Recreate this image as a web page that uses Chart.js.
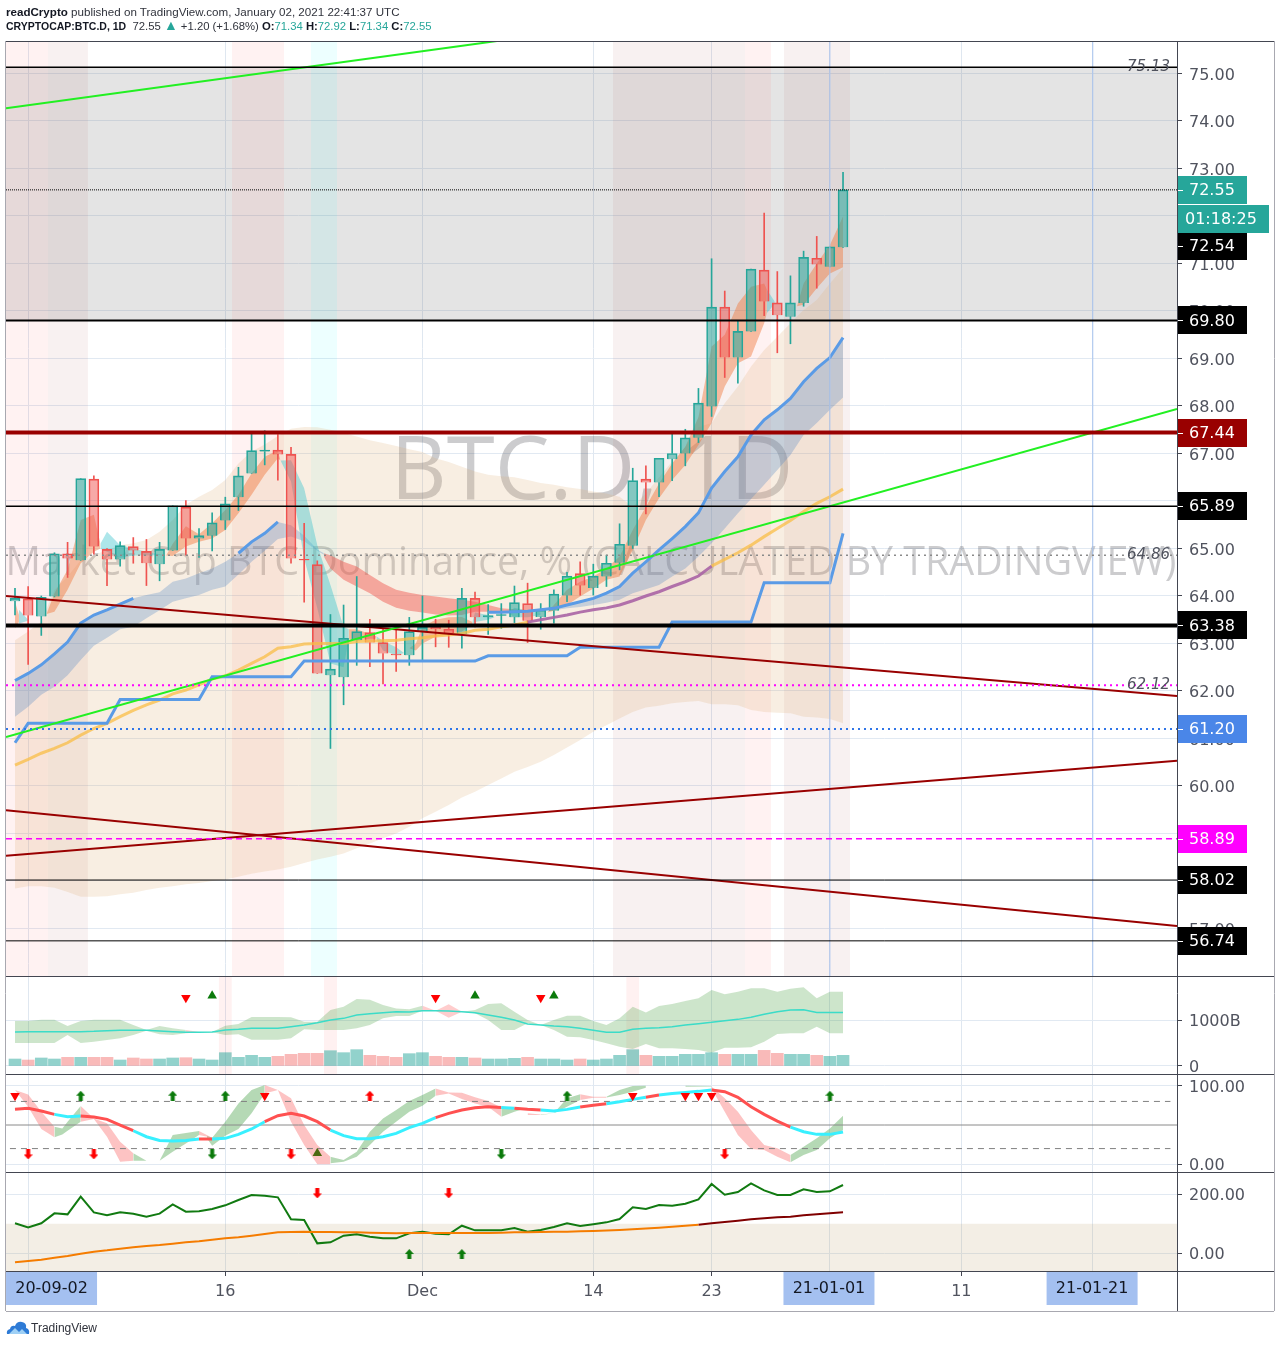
<!DOCTYPE html>
<html>
<head>
<meta charset="utf-8">
<title>CRYPTOCAP:BTC.D, 1D</title>
<script src="https://cdn.jsdelivr.net/npm/chart.js@4"></script>
<style>
    html, body { margin: 0; padding: 0; background: #fff; }
    #page { position: relative; width: 1280px; height: 1345px; overflow: hidden; }
    canvas { position: absolute; left: 0; top: 0; }
    .head { position: absolute; left: 6px; font: 11.6px "Liberation Sans", sans-serif; color: #30333c; white-space: nowrap; }
    .head b { color: #131722; }
    .head i { font-style: normal; color: #26a69a; }
    #line1 { top: 5px; }
    #line2 { top: 20px; font-size: 11.3px; }
    #line2 b.sym { font-size: 10.5px; }
    #line2 i.up { font-size: 14px; line-height: 10px; }
    #logo { position: absolute; left: 6px; top: 1320px; }
    #brand { position: absolute; left: 31px; top: 1321px; font: 12px "Liberation Sans", sans-serif; color: #30333c; }
</style>
</head>
<body>
<div id="page">
    <canvas id="chart" width="1280" height="1345"></canvas>
    <div class="head" id="line1"><b>readCrypto</b> published on TradingView.com, January 02, 2021 22:41:37 UTC</div>
    <div class="head" id="line2"><b class="sym">CRYPTOCAP:BTC.D, 1D</b>&nbsp; 72.55 <i class="up">▲</i> +1.20 (+1.68%) <b>O:</b><i>71.34</i> <b>H:</b><i>72.92</i> <b>L:</b><i>71.34</i> <b>C:</b><i>72.55</i></div>
    <svg id="logo" width="24" height="15" viewBox="0 0 24 15"><path d="M1 14 Q0 10 4 9 Q5 5 9 6 Q11 1 16 2 Q21 3 20 8 Q24 9 23 14 Z" fill="#2e7bd6"/><path d="M3 14 L9 8 L13 12 L16 9 L21 14 Z" fill="#9fd0f5"/></svg>
    <div id="brand">TradingView</div>
</div>

<script>
// days are counted from the first candle, 31 Oct 2020
const candleOpen = [63.89,63.94,63.57,63.99,64.89,64.75,66.46,64.98,64.77,65.04,64.94,64.67,64.96,65.87,65.21,65.27,65.59,66.08,66.58,67.04,67.07,66.98,64.77,64.66,62.33,62.29,63.07,63.23,63.02,62.77,62.75,63.26,63.35,63.30,63.20,63.95,63.55,63.59,63.55,63.84,63.56,63.69,64.01,64.47,64.17,64.41,64.70,65.06,66.46,66.39,66.88,67.00,67.33,67.99,70.08,69.02,69.57,70.86,70.17,69.88,70.17,71.11,70.93,71.34];
const candleClose = [63.95,63.59,63.97,64.89,64.79,66.47,65.04,64.77,65.06,64.96,64.69,64.98,65.90,65.21,65.27,65.54,65.94,66.53,67.06,67.07,66.98,64.79,64.75,62.37,62.46,63.11,63.25,63.02,62.79,62.76,63.25,63.34,63.30,63.21,63.95,63.55,63.59,63.61,63.86,63.48,63.70,64.04,64.42,64.22,64.42,64.69,65.09,66.43,66.39,66.90,67.00,67.33,68.06,70.08,69.02,69.57,70.88,70.20,69.91,70.17,71.13,70.98,71.35,72.55];
const candleHigh = [64.16,64.20,64.00,64.91,65.13,66.47,66.53,65.00,65.14,65.23,65.19,65.13,65.90,66.01,65.42,65.75,66.08,66.71,67.46,67.48,67.40,67.13,65.53,64.74,63.61,63.81,64.41,63.51,63.30,63.30,63.55,64.00,63.51,63.49,64.16,64.08,63.82,63.84,64.21,64.27,63.84,64.13,64.50,64.72,64.67,64.86,65.52,66.69,66.74,66.90,67.42,67.51,68.37,71.10,70.42,69.79,70.88,72.06,70.83,70.74,71.26,71.57,71.35,72.92];
const candleLow = [63.60,62.56,63.17,63.98,64.39,64.75,64.88,64.22,64.63,64.69,64.22,64.32,64.96,64.86,64.81,64.95,65.40,65.80,66.58,66.76,66.44,64.69,63.87,62.37,60.79,61.71,62.54,62.51,62.15,62.41,62.54,62.65,62.93,62.92,62.90,63.35,63.19,63.32,63.44,63.02,63.30,63.43,63.88,64.02,64.02,64.20,64.55,65.00,65.73,66.09,66.43,66.74,67.23,67.78,68.60,68.48,69.57,69.90,69.12,69.31,70.10,70.48,70.93,71.34];

const volume = [152,130,174,152,188,188,188,188,130,174,152,152,174,181,152,130,290,188,232,188,210,254,275,275,333,290,355,232,210,188,268,290,210,188,188,174,152,152,167,188,152,152,130,152,130,152,232,355,232,210,210,254,254,290,254,254,254,340,275,254,254,232,210,232];
const volumeAvg = [739,746,746,746,746,746,753,768,775,775,775,761,746,732,732,739,782,797,819,819,819,855,891,942,1000,1036,1108,1137,1159,1181,1174,1203,1203,1195,1181,1159,1108,1058,1000,913,891,869,855,819,775,732,732,797,819,833,855,891,920,949,985,1014,1058,1123,1181,1217,1224,1166,1166,1166];
const volumeUpper = [978,978,1007,1007,869,978,1007,1007,1007,891,782,869,819,782,739,739,877,913,1065,1065,1065,1058,964,964,1217,1290,1456,1442,1326,1253,1232,1311,1203,1340,1181,1217,1348,1362,1181,1000,891,1000,1094,1094,978,891,1036,1290,1166,1304,1348,1413,1471,1652,1558,1616,1688,1688,1616,1681,1710,1471,1616,1616];
const volumeLower = [500,500,500,500,674,500,529,565,601,674,768,688,674,710,732,732,674,688,572,572,572,601,797,782,782,782,819,891,1036,1087,1087,1203,1203,1050,1181,1145,1000,782,782,927,891,782,638,623,565,493,420,369,478,384,384,369,348,290,398,398,406,529,695,710,710,855,710,710];

const cloudUpper = [63.07,63.25,63.46,64.13,64.41,64.75,64.86,64.97,65.07,65.11,65.18,65.35,65.60,65.92,66.09,66.23,66.44,66.79,67.04,67.19,67.37,67.52,67.56,67.55,67.50,67.43,67.36,67.28,67.22,67.16,67.09,67.03,66.90,66.82,66.72,66.62,66.55,66.52,66.50,66.44,66.38,66.34,66.29,66.25,66.20,66.16,66.09,65.88,66.16,66.50,66.83,67.14,67.56,67.64,68.06,68.41,68.83,69.18,69.46,69.74,70.02,70.23,70.58,70.90];
const cloudLower = [57.84,57.89,57.89,57.86,57.77,57.67,57.67,57.68,57.72,57.75,57.81,57.86,57.89,57.93,57.96,58.00,58.03,58.09,58.15,58.20,58.24,58.30,58.38,58.45,58.51,58.58,58.69,58.79,58.90,59.00,59.14,59.32,59.46,59.60,59.76,59.88,60.02,60.16,60.30,60.40,60.51,60.65,60.81,60.97,61.14,61.28,61.42,61.56,61.65,61.69,61.74,61.77,61.79,61.72,61.72,61.70,61.60,61.56,61.54,61.53,61.46,61.44,61.41,61.32];

// ribbons: [day, top, bottom]
const fastOrange1 = [[0,63.88,63.32],[0.3,63.60,63.45]];
const fastTeal1 = [[0.3,63.71,63.42],[1,63.50,63.48]];
const fastOrange2 = [[2.4,63.62,63.62],[3,64.06,63.67],[4,64.55,64.13],[5,65.60,64.69],[6,65.71,64.93],[6.5,65.10,65.00]];
const fastTeal2 = [[6.5,65.10,65.00],[7,65.35,64.93],[8,65.07,64.80],[9,65.00,64.85],[10,64.93,64.85],[11,64.88,64.86],[11.5,64.85,64.85]];
const fastOrange3 = [[11.5,64.85,64.85],[12,65.10,64.84],[13,65.47,65.04],[14,65.30,65.14],[15,65.53,65.21],[16,65.81,65.39],[17,66.13,65.74],[18,66.58,66.13],[19,66.93,66.55],[20,67.07,66.90],[20.2,66.85,66.85]];
const fastTeal3 = [[20.2,66.85,66.85],[21,66.86,66.41],[22,66.27,64.79],[23,65.07,63.74],[24,64.23,62.58],[25,63.35,62.50],[25.4,63.30,63.10]];
const fastOrange4 = [[25.4,63.30,63.10],[26,63.30,63.05],[27,63.20,63.10],[27.5,63.15,63.10]];
const fastTeal4 = [[27.5,63.15,63.10],[28,63.05,62.85],[29,62.92,62.75],[29.6,62.80,62.80]];
const fastOrange5 = [[30,62.90,62.90],[30.5,63.00,62.85],[31,63.35,63.00],[32,63.50,63.14],[33,63.55,63.20],[34,63.56,63.25],[34.8,63.45,63.40]];
const fastTeal5 = [[34.8,63.45,63.40],[35,63.65,63.45],[36,63.60,63.50],[36.5,63.55,63.55]];
const fastTeal6 = [[37.5,63.65,63.65],[38,63.75,63.55],[39,63.70,63.55],[40,63.65,63.60]];
const fastOrange6 = [[40.5,63.65,63.65],[41,63.81,63.69],[42,64.13,63.81],[43,64.30,63.99],[44,64.41,64.16],[45,64.58,64.34],[46,64.83,64.41],[47,65.39,64.97],[48,65.88,65.60],[49,66.37,66.06],[50,66.79,66.44],[51,67.14,66.76],[52,67.77,67.18],[53,69.25,67.64],[54,69.50,68.41],[55,70.16,68.90],[56,70.51,69.04],[57,70.58,69.74],[57.2,70.45,69.95]];
const fastTeal7 = [[57.2,70.45,69.95],[57.8,70.20,70.15]];
const fastOrange7 = [[59.5,70.10,70.10],[60,70.58,70.13],[61,71.00,70.48],[62,71.39,70.79],[63,71.99,70.92]];
const slowRed = [[23.5,64.90,64.83],[24,64.86,64.58],[25,64.72,64.34],[26,64.62,64.20],[27,64.44,64.06],[28,64.27,63.88],[29,64.13,63.75],[30,64.07,63.69],[31,64.02,63.65],[32,63.99,63.61],[33,63.95,63.59],[34,63.92,63.60],[35,63.88,63.67],[36,63.81,63.67],[37,63.74,63.67],[39,63.70,63.68],[40,63.68,63.68]];
const slowBlue1 = [[0,62.22,61.46],[1,62.37,61.67],[2,62.55,61.92],[3,62.78,62.09],[4,63.03,62.33],[5,63.43,62.65],[6,63.60,62.95],[7,63.71,63.12],[8,63.83,63.30],[9,63.95,63.35],[10,64.02,63.53],[11,64.08,63.70],[12,64.30,63.88],[13,64.37,63.95],[14,64.48,64.02],[15,64.58,64.13],[16,64.72,64.20],[17,64.90,64.45],[18,65.14,64.72],[19,65.32,64.95],[20,65.56,65.20],[21,65.49,65.25],[22,65.27,65.15],[23,64.98,64.95],[23.5,64.90,64.87]];
const slowBlue2 = [[41,63.74,63.70],[42,63.81,63.74],[43,63.88,63.77],[44,63.95,63.81],[45,64.06,63.86],[46,64.20,63.92],[47,64.48,64.06],[48,64.72,64.14],[49,64.97,64.23],[50,65.21,64.41],[51,65.46,64.58],[52,65.75,64.83],[53,66.27,65.11],[54,66.62,65.42],[55,66.93,65.74],[56,67.39,66.04],[57,67.71,66.34],[58,67.92,66.65],[59,68.16,66.97],[60,68.51,67.39],[61,68.79,67.64],[62,69.02,67.92],[63,69.44,68.18]];

// moving average pieces: [day, value]
const blueAvg1 = [[0,62.22],[1,62.37],[2,62.55],[3,62.78],[4,63.03],[5,63.43],[6,63.60],[7,63.71],[8,63.83],[9,63.95]];
const blueAvg2 = [[17,64.90],[18,65.14],[19,65.32],[20,65.56]];
const blueAvg3 = [[36,63.66],[37,63.66],[38,63.67],[39,63.68],[40,63.71],[41,63.74],[42,63.81],[43,63.88],[44,63.95],[45,64.06],[46,64.20],[47,64.48],[48,64.72],[49,64.97],[50,65.21],[51,65.46],[52,65.75],[53,66.27],[54,66.62],[55,66.93],[56,67.39],[57,67.71],[58,67.92],[59,68.16],[60,68.51],[61,68.79],[62,69.02],[63,69.44]];
const yellowAvg1 = [60.44,60.56,60.69,60.79,60.91,61.07,61.21,61.32,61.46,61.59,61.71,61.81,61.94,62.02,62.13,62.25,62.32,62.44,62.58,62.72,62.90,62.93,62.99,63.00,63.00,63.00,63.04,63.05,63.06,63.07,63.10,63.12,63.16,63.18,63.21,63.28,63.30,63.35,63.39,63.45];
const purpleAvg = [[39,63.45],[40,63.50],[41,63.55],[42,63.60],[43,63.66],[44,63.71],[45,63.75],[46,63.81],[47,63.90],[48,64.00],[49,64.09],[50,64.20],[51,64.30],[52,64.42],[53,64.63]];
const yellowAvg2 = [[53,64.63],[54,64.77],[55,64.91],[56,65.07],[57,65.25],[58,65.42],[59,65.59],[60,65.78],[61,65.95],[62,66.09],[63,66.25]];
const baseLine = [60.91,61.32,61.32,61.32,61.32,61.32,61.32,61.32,61.82,61.82,61.82,61.82,61.82,61.82,61.82,62.30,62.30,62.30,62.30,62.30,62.30,62.30,62.63,62.63,62.63,62.63,62.63,62.63,62.63,62.63,62.63,62.63,62.63,62.63,62.63,62.63,62.74,62.74,62.74,62.74,62.74,62.74,62.74,62.92,62.92,62.92,62.92,62.92,62.92,62.92,63.45,63.45,63.45,63.45,63.45,63.45,63.45,64.28,64.28,64.28,64.28,64.28,64.28,65.32];

// trend lines: [day, value, day, value]
const greenTrends = [[-0.685,74.27,36.67,75.684],[-0.685,61.03,88.41,67.94]];
const redTrends = [[-0.685,64.00,88.41,61.895],[-0.685,58.53,88.41,60.53],[-0.685,59.49,88.41,57.05]];

const levels = [75.13,72.55,69.80,67.44,65.89,64.86,63.38,62.12,61.20,58.89,58.02,56.74];
const levelTags = [75.13,64.86,62.12];
const boxRange = [69.80,75.13];
const pinkDays = [[-0.685,2.51],[16.51,20.47],[55.54,57.52]];
const mutedPinkDays = [[2.51,5.55],[45.5,55.54],[58.51,63.53]];
const cyanDays = [[22.52,24.5]];
const volumePinkDays = [[15.5,16.5],[23.5,24.5],[46.5,47.5]];
const markerDays = [62,82];

const stochLine = [69.9,71.2,67.8,63.5,60.6,61.4,60.1,57.2,49.9,42.7,35.1,30.4,29.6,30.4,32.2,32.2,33,38.1,44.9,54.2,61.8,64.8,61.4,54.2,43.6,36.4,32.6,32.6,35.1,39.3,46.6,52.1,59.3,64.8,69,72,73.3,72.4,71.2,69.9,69,67.8,69.9,72.9,75,77.1,79.6,82.6,85.2,88.1,90.2,91.5,92.8,94.5,92.4,85.2,73.3,63.5,55,47.4,41.5,38.1,38.1,41.1];
const stochRedDays = [[0,3],[5,9],[14,15],[19,24],[32,37],[38,40],[43,45],[48,49],[53,59]];
const stochLevelsDashed = [80,20];
const stochLevelMid = 50;
const stochPink = [
    [[0,94.5,94.5],[1,88.9,73.3],[2,66.9,44.9],[3,47.8,34.3]],
    [[5,74.1,54.2],[6,58.4,57.6],[7,52.1,35.1],[8,28.8,3.3],[9,13.9,4.6]],
    [[14,42.3,37.2],[15,33.8,33.8]],
    [[19,100.8,90.2],[20,94.5,94.5],[21,83.9,54.2],[22,49.9,24.5],[23,24.5,0],[24,9.7,0]],
    [[32,96.6,87.3],[33,91.5,90.2],[34,91.1,83],[35,85.2,77.5],[36,80.5,73.3],[37,72.4,60.6]],
    [[39,64.8,62.7],[40,63.5,62.7]],
    [[43,89,81.8],[44,85.9,84.7],[45,86,84.7]],
    [[53,98.7,96.6],[54,83.9,66.9],[55,66.9,37.2],[56,43.6,19.4],[57,24.5,18.1],[58,20.5,9.7],[59,11.8,2.5]]
];
const stochGreen = [
    [[3,47.8,34.3],[3.6,45.7,38],[4,54.2,42.7],[5,74.1,54.2]],
    [[9,13.9,4.6],[10,4.6,4.6]],
    [[11,4.6,4.6],[12,37.2,16],[13,39.8,26.6],[14,42.3,37.2]],
    [[14.6,36,33],[15,33.8,23.7],[16,54.2,36.4],[17,77.5,44.9],[18,94.5,64.8],[19,100.8,90.2]],
    [[24,9.7,1.2],[25,5.4,3.3],[26,16,9.7],[27,41.5,24.5],[28,58.4,41.5],[29,69,54.2],[30,80.5,66.9],[31,88.1,74.6],[32,96.6,87.3]],
    [[37,72.4,60.6],[38,72,66.9],[38.5,70,69.5]],
    [[40,63.5,62.7],[41,64.8,64.8],[42,83.9,73.3],[43,89,81.8]],
    [[45,86,85],[46,94.5,88.1],[47,99.6,92.4],[48,100,97.5]],
    [[51,100,98.7],[53,99.6,99]],
    [[59,11.8,2.5],[60,22.4,11.8],[61,33,18.1],[62,45.7,33],[63,61.8,43.6]]
];

const oscLine = [101.6,88,101.6,135.4,132,192,138.8,128.7,138.8,134.3,124.2,134.3,166,141.1,142.2,150.1,162.6,180.7,197.6,195.3,189.7,115.1,112.9,33.7,37.1,59.7,64.3,56.3,50.7,50.7,67.7,73.3,66.5,64.3,93.6,77.8,77.8,77.8,85.7,73.3,79,89.1,101.6,92.5,98.2,104.9,116.2,155.8,150.1,163.7,161.4,168.2,182.9,234.9,198.7,207.8,237.1,213.4,197.6,197.6,216.8,207.8,210,231.5];
const oscAvgOrange = [-30.7,-26.1,-21.6,-14.8,-9.2,-1.3,5.5,10,15.7,20.2,24.7,28.1,32.6,37.1,40.5,46.2,50.7,54.1,59.7,65.4,71,72.2,73.3,72.2,72.2,71,71,69.9,68.8,67.7,68.8,68.8,68.8,68.8,68.8,68.8,68.8,70,71,71.5,72,73,73.3,74.5,75.5,77,79,81.2,84,86.9,90,93.6,97];
const oscAvgRed = [[52,97],[53,101.6],[54,106],[55,110.6],[56,115.1],[57,118.5],[58,121.9],[59,124.2],[60,128.7],[61,132],[62,135.4],[63,138.8]];
const oscBandRange = [-100,100];

// signal markers
const volDownDays = [13,32,40];
const volUpDays = [15,35,41];
const volDownAt = 1485;
const volUpAt = 1528;
const stochDownTriDays = [0,19,47,51,52,53];
const stochTriAt = 87.3;
const stochOliveDay = 23;
const stochOliveAt = 14;
const stochGreenUpDays = [5,12,16,42,62];
const stochRedUpDays = [27];
const stochRedDownDays = [1,6,21,54];
const stochGreenDownDays = [15,37];
const stochLowAt = 12.6;
const oscRedDownDays = [23,33];
const oscRedDownAt = 203;
const oscGreenUpDays = [30,34];
const oscGreenUpAt = -2.4;

// axes
const priceTicks = [57,58,59,60,61,62,63,64,65,66,67,68,69,70,71,72,73,74,75];
const volumeTicks = [0,1000];
const stochTicks = [0,100];
const oscTicks = [0,200];
const dayTicks = [1,16,31,44,53,62,72,82];
const dayTickLabels = ["","16","Dec","14","23","","11",""];

// value boxes on the price axis: [text, value it sits at, colour]
const priceBadges = [
    ["72.55",72.55,"#26a69a"],
    ["72.54",71.37,"#000000"],
    ["69.80",69.80,"#000000"],
    ["67.44",67.44,"#990000"],
    ["65.89",65.89,"#000000"],
    ["63.38",63.38,"#000000"],
    ["61.20",61.20,"#4a86e8"],
    ["58.89",58.89,"#ff00ff"],
    ["58.02",58.02,"#000000"],
    ["56.74",56.74,"#000000"]
];
const countdownText = "01:18:25";
const countdownAt = 71.94;
const dateBadges = [["20-09-02",2.78],["21-01-01",61.93],["21-01-21",81.95]];

const xMin = -0.685, xMax = 88.41;
const priceMin = 56, priceMax = 75.684;
const AXIS_FONT = "DejaVu Sans";
const days = candleOpen.map((_, i) => i);

let datasets = [];

function addLine(points, color, width, order, axis, dash) {
    datasets.push({
        type: "line", data: points.map(p => ({ x: p[0], y: p[1] })), yAxisID: axis || "y",
        borderColor: color, borderWidth: width, borderDash: dash || [], pointRadius: 0,
        tension: 0, fill: false, order: order, borderCapStyle: "butt"
    });
}

function addRibbon(rows, color, order, axis) {
    let index = datasets.length;
    datasets.push({
        type: "line", data: rows.map(r => ({ x: r[0], y: r[1] })), yAxisID: axis || "y",
        borderWidth: 0, pointRadius: 0, tension: 0, backgroundColor: color,
        fill: { target: index + 1 }, order: order
    });
    datasets.push({
        type: "line", data: rows.map(r => ({ x: r[0], y: r[2] })), yAxisID: axis || "y",
        borderWidth: 0, pointRadius: 0, tension: 0, fill: false, order: order
    });
}

function addBlock(from, to, low, high, color, order, axis) {
    datasets.push({
        type: "line", data: [{ x: from, y: high }, { x: to, y: high }], yAxisID: axis || "y",
        borderWidth: 0, pointRadius: 0, backgroundColor: color, fill: { value: low }, order: order
    });
}

function addMarkers(dayList, value, style, color, size, rotation, axis) {
    datasets.push({
        type: "line", data: dayList.map(d => ({ x: d, y: value })), yAxisID: axis, showLine: false,
        pointStyle: style, pointRadius: size, pointRotation: rotation,
        pointBackgroundColor: color, pointBorderColor: color, pointBorderWidth: 0, order: 1
    });
}

function makeArrow(color, up) {
    let c = document.createElement("canvas");
    c.width = 9;
    c.height = 10;
    let g = c.getContext("2d");
    g.fillStyle = color;
    g.translate(0, up ? 0 : 10);
    g.scale(1, up ? 1 : -1);
    g.beginPath();
    g.moveTo(4.5, 0);
    g.lineTo(9, 5);
    g.lineTo(6.5, 5);
    g.lineTo(6.5, 10);
    g.lineTo(2.5, 10);
    g.lineTo(2.5, 5);
    g.lineTo(0, 5);
    g.closePath();
    g.fill();
    return c;
}

const zip = (a, b) => a.map((v, i) => [i, v, b[i]]);
const pairs = arr => arr.map((v, i) => [i, v]);
const rising = i => candleClose[i] >= candleOpen[i];

// ---- price pane ----
addBlock(xMin, xMax, boxRange[0], boxRange[1], "rgba(120,120,120,0.2)", 100);
pinkDays.forEach(d => addBlock(d[0], d[1], priceMin, priceMax, "rgba(255,82,82,0.075)", 99));
mutedPinkDays.forEach(d => addBlock(d[0], d[1], priceMin, priceMax, "rgba(160,80,80,0.08)", 99));
cyanDays.forEach(d => addBlock(d[0], d[1], priceMin, priceMax, "rgba(0,255,255,0.07)", 99));
addRibbon(zip(cloudUpper, cloudLower), "rgba(220,170,110,0.2)", 90);
addRibbon(slowBlue1, "rgba(70,125,195,0.28)", 85);
addRibbon(slowBlue2, "rgba(70,125,195,0.28)", 85);
addRibbon(slowRed, "rgba(240,80,70,0.45)", 85);
[fastOrange1, fastOrange2, fastOrange3, fastOrange4, fastOrange5, fastOrange6, fastOrange7].forEach(r => addRibbon(r, "rgba(240,120,60,0.45)", 84));
[fastTeal1, fastTeal2, fastTeal3, fastTeal4, fastTeal5, fastTeal6, fastTeal7].forEach(r => addRibbon(r, "rgba(60,195,205,0.42)", 84));

// wicks stop at the body so the translucent body stays clean
datasets.push({
    type: "bar", data: days.map(i => ({ x: i, y: [Math.max(candleOpen[i], candleClose[i]), candleHigh[i]] })), yAxisID: "y",
    barThickness: 1, grouped: false, order: 60, backgroundColor: days.map(i => rising(i) ? "#26a69a" : "#ef5350")
});
datasets.push({
    type: "bar", data: days.map(i => ({ x: i, y: [candleLow[i], Math.min(candleOpen[i], candleClose[i])] })), yAxisID: "y",
    barThickness: 1, grouped: false, order: 60, backgroundColor: days.map(i => rising(i) ? "#26a69a" : "#ef5350")
});
datasets.push({
    type: "bar", data: days.map(i => ({ x: i, y: [candleOpen[i], candleClose[i]] })), yAxisID: "y",
    barThickness: 10, grouped: false, order: 59, borderWidth: 1,
    backgroundColor: days.map(i => rising(i) ? "rgba(38,166,154,0.55)" : "rgba(239,83,80,0.5)"),
    borderColor: days.map(i => rising(i) ? "#26a69a" : "#ef5350")
});

addLine(pairs(yellowAvg1), "rgba(250,190,70,0.75)", 3, 50);
addLine(purpleAvg, "rgba(170,100,165,0.9)", 3, 50);
addLine(yellowAvg2, "rgba(250,190,70,0.75)", 3, 50);
addLine(pairs(baseLine), "#5a9be6", 3, 49);
[blueAvg1, blueAvg2, blueAvg3].forEach(p => addLine(p, "#5a9be6", 3, 49));
markerDays.forEach(d => addLine([[d, priceMin], [d, priceMax]], "#a9c4ef", 1, 48));
redTrends.forEach(t => addLine([[t[0], t[1]], [t[2], t[3]]], "#990000", 2, 40));
greenTrends.forEach(t => addLine([[t[0], t[1]], [t[2], t[3]]], "#22f022", 2, 39));

const levelStyles = [
    ["#000000", 1.5, []], ["#000000", 1, [1, 1]], ["#000000", 2, []], ["#990000", 4, []],
    ["#000000", 1.5, []], ["#8a8a8a", 1.5, [2, 4]], ["#000000", 4, []], ["#ff00ff", 2, [2, 4]],
    ["#2f75e8", 2, [2, 4]], ["#ff00ff", 1.5, [6, 4]], ["#000000", 1, []], ["#000000", 1, []]
];
levels.forEach((v, k) => addLine([[xMin, v], [xMax, v]], levelStyles[k][0], levelStyles[k][1], 38, "y", levelStyles[k][2]));

// ---- volume pane ----
volumePinkDays.forEach(d => addBlock(d[0], d[1], -174, 1957, "rgba(255,82,82,0.08)", 99, "yVol"));
datasets.push({
    type: "bar", data: days.map(i => ({ x: i, y: [0, volume[i]] })), yAxisID: "yVol",
    barThickness: 12, grouped: false, order: 60,
    backgroundColor: days.map(i => rising(i) ? "rgba(38,166,154,0.5)" : "rgba(239,83,80,0.4)")
});
const volRows = zip(volumeUpper, volumeLower);
addRibbon(volRows.slice(0, 14), "rgba(76,160,70,0.28)", 85, "yVol");
addRibbon(volRows.slice(13, 15), "rgba(255,90,90,0.3)", 85, "yVol");
addRibbon(volRows.slice(14, 32), "rgba(76,160,70,0.28)", 85, "yVol");
addRibbon(volRows.slice(31, 35), "rgba(255,90,90,0.3)", 85, "yVol");
addRibbon(volRows.slice(34), "rgba(76,160,70,0.28)", 85, "yVol");
addLine(pairs(volumeAvg), "#3bdcc8", 1.5, 50, "yVol");
addMarkers(volDownDays, volDownAt, "triangle", "#ff0000", 5.5, 180, "yVol");
addMarkers(volUpDays, volUpAt, "triangle", "#0b7a0b", 5.5, 0, "yVol");

// ---- stochastic pane ----
stochPink.forEach(r => addRibbon(r, "rgba(250,90,90,0.36)", 85, "yStoch"));
stochGreen.forEach(r => addRibbon(r, "rgba(70,160,70,0.4)", 85, "yStoch"));
stochLevelsDashed.forEach(v => addLine([[xMin + 0.3, v], [xMax - 0.5, v]], "#808080", 1, 70, "yStoch", [6, 5]));
addLine([[xMin, stochLevelMid], [xMax, stochLevelMid]], "#8a8a8a", 1, 70, "yStoch");
datasets.push({
    type: "line", data: pairs(stochLine).map(p => ({ x: p[0], y: p[1] })), yAxisID: "yStoch",
    borderWidth: 3, pointRadius: 0, tension: 0, fill: false, order: 50,
    segment: {
        borderColor: ctx => stochRedDays.some(r => ctx.p0DataIndex >= r[0] && ctx.p0DataIndex < r[1]) ? "#ff5050" : "#38f0ff"
    }
});
addMarkers(stochDownTriDays, stochTriAt, "triangle", "#ff0000", 5.5, 180, "yStoch");
addMarkers([stochOliveDay], stochOliveAt, "triangle", "#4c6a10", 5.5, 0, "yStoch");
addMarkers(stochGreenUpDays, stochTriAt, makeArrow("#0b7a0b", true), "#0b7a0b", 5, 0, "yStoch");
addMarkers(stochRedUpDays, stochTriAt, makeArrow("#ff0000", true), "#ff0000", 5, 0, "yStoch");
addMarkers(stochRedDownDays, stochLowAt, makeArrow("#ff0000", false), "#ff0000", 5, 0, "yStoch");
addMarkers(stochGreenDownDays, stochLowAt, makeArrow("#0b7a0b", false), "#0b7a0b", 5, 0, "yStoch");

// ---- oscillator pane ----
addBlock(xMin, xMax, -60, oscBandRange[1], "rgba(190,160,110,0.18)", 99, "yOsc");
addLine(pairs(oscLine), "#117a11", 2, 50, "yOsc");
addLine(pairs(oscAvgOrange), "#f57c00", 2, 49, "yOsc");
addLine(oscAvgRed, "#800000", 2, 49, "yOsc");
addMarkers(oscRedDownDays, oscRedDownAt, makeArrow("#ff0000", false), "#ff0000", 5, 0, "yOsc");
addMarkers(oscGreenUpDays, oscGreenUpAt, makeArrow("#0b7a0b", true), "#0b7a0b", 5, 0, "yOsc");

// watermark sits under the series
const watermark = {
    id: "watermark",
    beforeDatasetsDraw(chart) {
        const c = chart.ctx;
        c.save();
        c.fillStyle = "rgba(50,50,60,0.25)";
        c.textAlign = "center";
        c.textBaseline = "alphabetic";
        c.font = '87px "Open Sans"';
        c.fillText("BTC.D, 1D", 592, 499);
        c.font = '39.4px "Open Sans"';
        c.fillText("Market Cap BTC Dominance, % (CALCULATED BY TRADINGVIEW)", 591, 575);
        c.restore();
    }
};

// frame, level tags and value boxes go over everything
const overlay = {
    id: "overlay",
    afterDraw(chart) {
        const c = chart.ctx;
        const y = chart.scales.y, x = chart.scales.x;
        c.save();
        c.strokeStyle = "#434651";
        c.lineWidth = 1;
        [chart.scales.y.top, chart.scales.yVol.top, chart.scales.yStoch.top, chart.scales.yOsc.top, chart.scales.yOsc.bottom].forEach(v => {
            c.beginPath();
            c.moveTo(6, Math.round(v) + 0.5);
            c.lineTo(1274, Math.round(v) + 0.5);
            c.stroke();
        });
        c.beginPath();
        c.moveTo(1177.5, y.top);
        c.lineTo(1177.5, 1311);
        c.stroke();
        c.strokeStyle = "#a8a8b0";
        c.beginPath();
        c.moveTo(5.5, y.top);
        c.lineTo(5.5, 1311);
        c.moveTo(1274.5, y.top);
        c.lineTo(1274.5, 1311);
        c.moveTo(6, 1311.5);
        c.lineTo(1274, 1311.5);
        c.stroke();

        c.fillStyle = "#50535e";
        c.textAlign = "right";
        c.textBaseline = "middle";
        c.font = 'italic 15px "DejaVu Sans"';
        levelTags.forEach(v => c.fillText(v.toFixed(2), 1170, y.getPixelForValue(v) - 0.5));

        c.font = '16px "' + AXIS_FONT + '"';
        c.textAlign = "left";
        priceBadges.forEach(b => {
            let py = y.getPixelForValue(b[1]);
            c.fillStyle = b[2];
            c.fillRect(1178, Math.round(py) - 14, 69, 28);
            c.fillStyle = "#fff";
            c.fillRect(1178, Math.round(py), 5, 1);
            c.fillText(b[0], 1189, py + 1);
        });
        let cy = y.getPixelForValue(countdownAt);
        c.fillStyle = "#26a69a";
        c.fillRect(1178, Math.round(cy) - 14, 91, 28);
        c.fillStyle = "#fff";
        c.fillText(countdownText, 1185, cy + 1);

        c.textAlign = "center";
        dateBadges.forEach(b => {
            let px = x.getPixelForValue(b[1]);
            c.fillStyle = "#a4c0f0";
            c.fillRect(px - 45.5, 1272, 91, 33);
            c.fillStyle = "#131722";
            c.fillText(b[0], px, 1289);
        });
        c.restore();
    }
};

// the blank first line with a small line height nudges the label 2px down onto the reference position
function shifted(text) {
    return ["", text];
}

function valueAxis(ticks, min, max, weight, order, format) {
    return {
        type: "linear", position: "right", stack: "panes", stackWeight: weight, weight: order,
        min: min, max: max,
        afterFit: s => { s.width = 97; },
        afterBuildTicks: s => { s.ticks = ticks.map(v => ({ value: v })); },
        grid: { color: "#e1e9f2", lineWidth: 1, tickLength: 5, tickColor: "#434651", drawTicks: true },
        border: { display: false },
        ticks: {
            autoSkip: false, crossAlign: "near", padding: 7, color: "#50535e",
            font: { family: AXIS_FONT, size: 16, lineHeight: "4px" },
            callback: v => shifted(format(v))
        }
    };
}

new Chart(document.getElementById("chart"), {
    type: "line",
    data: { datasets: datasets },
    plugins: [watermark, overlay],
    options: {
        responsive: false,
        animation: false,
        devicePixelRatio: 1,
        events: [],
        layout: { padding: { top: 41, left: 6, right: 6, bottom: 34 } },
        plugins: { legend: { display: false }, tooltip: { enabled: false }, title: { display: false } },
        scales: {
            x: {
                type: "linear", min: xMin, max: xMax, offset: false,
                afterFit: s => { s.height = 40; },
                afterBuildTicks: s => { s.ticks = dayTicks.map(v => ({ value: v })); },
                grid: { color: "#dfe7f0", offset: false, tickLength: 5, tickColor: "#434651" },
                border: { display: false },
                ticks: {
                    autoSkip: false, maxRotation: 0, padding: 6, color: "#50535e",
                    font: { family: AXIS_FONT, size: 16 },
                    callback: v => dayTickLabels[dayTicks.indexOf(v)]
                }
            },
            y: valueAxis(priceTicks, priceMin, priceMax, 935, 1, v => v.toFixed(2)),
            yVol: valueAxis(volumeTicks, -174, 1957, 98, 2, v => v === 0 ? "0" : v + "B"),
            yStoch: valueAxis(stochTicks, -9.8, 114.9, 98, 3, v => v.toFixed(2)),
            yOsc: valueAxis(oscTicks, -60, 275.6, 99, 4, v => v.toFixed(2))
        }
    }
});
</script>
</body>
</html>
